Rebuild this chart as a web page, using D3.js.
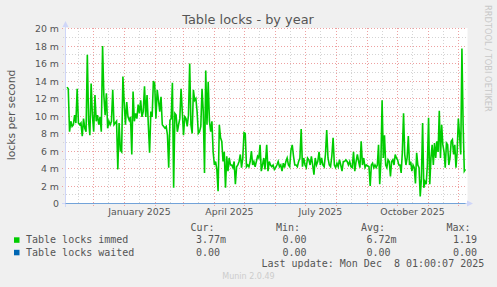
<!DOCTYPE html>
<html>
<head>
<meta charset="utf-8">
<script src="https://cdn.jsdelivr.net/npm/d3@7"></script>
<style>
  html, body { margin: 0; padding: 0; background: #f0f0f0; }
  svg { display: block; }
</style>
</head>
<body>
<svg id="chart" width="497" height="287"></svg>
<script>
// Graph period (munin "by year" = 400 days)
const periodStart = new Date(2024, 10, 3, 1, 0, 7);
const periodEnd = new Date(2025, 11, 8, 1, 0, 7);

// Table locks immed, in milli-locks per second in four stretches
const immedNovFeb = [13.3, 13.1, 8.2, 9.4, 8.8, 9.0, 10.1, 9.2, 13.1, 9.2, 9.0, 9.2, 7.7, 9.7, 8.6, 8.2,
  17.0, 9.4, 7.8, 13.7, 10.1, 8.2, 12.4, 9.4, 10.1, 9.0, 9.9, 8.2, 18.0, 12.4, 10.1, 12.6, 8.6, 9.4,
  9.0, 9.4, 13.0, 9.0, 9.2, 9.4, 3.9, 9.2, 6.1, 5.9, 14.5, 11.6, 9.0, 11.6, 9.9, 9.5, 9.9, 5.6, 12.8,
  9.4, 10.3, 9.7, 11.3, 10.3, 11.8, 9.9, 10.5, 13.4, 9.9, 12.4, 9.0, 5.8, 10.5, 9.9, 14.0, 13.7, 9.7,
  13.0, 11.8, 10.5, 12.2, 9.0];
const immedFebMay = [8.6, 8.8, 7.8, 4.1, 9.5, 9.7, 13.8, 1.8, 10.3, 10.1, 8.2, 9.0, 9.7, 13.1, 10.5,
  7.8, 9.9, 9.7, 8.8, 10.1, 16.0, 9.0, 8.0, 13.0, 11.8, 12.0, 10.5, 8.0, 8.2, 8.8, 13.1, 10.5, 3.5,
  15.2, 9.0, 13.9, 9.4, 8.2, 9.4, 5.9, 4.4, 4.8, 3.9, 1.4, 9.0, 7.5, 7.1, 4.8, 5.9, 1.8, 5.4, 3.7, 5.2,
  4.4, 4.4, 4.1, 4.8, 2.2, 4.2, 4.4, 4.8, 5.6, 4.1, 5.2, 8.1, 8.0, 4.2, 4.4, 4.2, 4.8, 6.0, 4.4, 4.8,
  4.2, 4.8, 5.4, 5.2, 6.7, 3.7, 4.4, 5.2, 3.9];
const immedMayAug = [6.7, 3.7, 4.8, 4.4, 4.2, 4.4, 3.9, 4.1, 4.4, 4.8, 4.2, 4.4, 3.7, 4.6, 4.1, 4.8,
  5.2, 4.4, 4.2, 6.1, 6.7, 5.4, 4.4, 4.4, 4.2, 4.8, 5.2, 8.5, 4.2, 5.2, 4.4, 4.1, 5.2, 5.0, 4.4, 5.4,
  4.4, 3.3, 5.2, 4.4, 4.8, 5.9, 4.4, 5.2, 4.4, 4.2, 5.6, 8.4, 5.2, 4.4, 4.2, 5.4, 7.5, 4.4, 4.1, 4.6,
  4.2, 5.0, 4.4, 3.7, 4.8, 4.8, 5.0, 4.8, 4.4, 4.8, 4.2, 4.1, 5.9, 3.7, 4.8, 5.6, 4.8, 4.1, 7.1, 4.4,
  5.2, 4.1, 4.4];
const immedSepDec = [4.2, 2.0, 4.4, 4.6, 4.1, 4.4, 4.1, 4.4, 6.7, 2.2, 4.8, 11.8, 5.2, 7.8, 4.4, 4.1,
  5.0, 4.8, 3.1, 4.8, 5.0, 4.4, 5.6, 5.2, 5.0, 4.4, 4.4, 3.5, 5.9, 10.3, 5.6, 4.4, 5.2, 7.7, 4.4, 4.8,
  3.7, 4.4, 4.1, 2.3, 5.8, 4.4, 4.1, 0.8, 2.9, 9.2, 1.8, 2.5, 2.2, 4.4, 9.8, 2.2, 5.2, 6.7, 4.4, 6.9,
  5.2, 7.1, 5.9, 10.6, 5.2, 9.0, 6.7, 5.9, 4.1, 6.9, 6.7, 4.4, 5.2, 7.1, 7.3, 5.6, 6.7, 4.1, 5.9, 9.7,
  7.8, 5.6, 17.7, 9.0, 3.7, 3.9];
// first and last sample time of each stretch
const stretchStarts = [new Date(2024, 10, 4, 13), new Date(2025, 1, 10, 13), new Date(2025, 4, 23, 6), new Date(2025, 8, 2, 13)];
const stretchEnds = [new Date(2025, 1, 7, 20), new Date(2025, 4, 21, 13), new Date(2025, 7, 30, 20), new Date(2025, 11, 8, 1)];

// Table locks waited stays at zero over the whole period
const waitedValues = [0, 0];

// Y ticks and x labels
const yMajorTicks = [0, 2, 4, 6, 8, 10, 12, 14, 16, 18, 20];
const yMinorTicks = [1, 3, 5, 7, 9, 11, 13, 15, 17, 19];
const xLabelMonths = [new Date(2025, 0, 16), new Date(2025, 3, 16), new Date(2025, 6, 16), new Date(2025, 9, 16)];

// Legend
const seriesNames = ["Table locks immed", "Table locks waited"];
const seriesColors = ["#00cc00", "#0066b3"];
const curValues = ["3.77m", "0.00"];
const minValues = ["0.00", "0.00"];
const avgValues = ["6.72m", "0.00"];
const maxValues = ["1.19", "0.00"];
const lastUpdate = "Last update: Mon Dec  8 01:00:07 2025";

const svg = d3.select("#chart");
const plot = { left: 66, right: 466, top: 28.5, bottom: 203.5 };

const x = d3.scaleTime().domain([periodStart, periodEnd]).range([plot.left - 0.5, plot.right - 0.5]);
const y = d3.scaleLinear().domain([0, 20]).range([plot.bottom, plot.top]);

// Build the immed series
const immedSeries = [];
[immedNovFeb, immedFebMay, immedMayAug, immedSepDec].forEach((vals, s) => {
    const t0 = stretchStarts[s].getTime(), t1 = stretchEnds[s].getTime();
    vals.forEach((v, i) => {
        immedSeries.push({ date: new Date(t0 + (t1 - t0) * i / (vals.length - 1)), value: v });
    });
});
const waitedSeries = waitedValues.map((v, i) => ({ date: i === 0 ? periodStart : periodEnd, value: v }));

// Canvas
svg.append("rect")
    .attr("x", plot.left)
    .attr("y", 28)
    .attr("width", plot.right - plot.left + 1.5)
    .attr("height", 176)
    .attr("fill", "#ffffff");

// Minor grid
const minorMonths = d3.timeMonth.range(new Date(2024, 10, 1), periodEnd).map(d => new Date(d.getFullYear(), d.getMonth(), 16))
    .filter(d => d > periodStart && d < periodEnd);
const grid = svg.append("g");
grid.selectAll(".vminor")
    .data(minorMonths)
    .join("line")
    .attr("x1", d => Math.round(x(d)) + 0.5)
    .attr("x2", d => Math.round(x(d)) + 0.5)
    .attr("y1", 28)
    .attr("y2", 204)
    .attr("stroke", "#d4d4d4")
    .attr("stroke-dasharray", "1,2");
grid.selectAll(".hminor")
    .data(yMinorTicks)
    .join("line")
    .attr("x1", 63)
    .attr("x2", plot.right + 1)
    .attr("y1", d => Math.round(y(d) - 0.5) + 0.5)
    .attr("y2", d => Math.round(y(d) - 0.5) + 0.5)
    .attr("stroke", "#d4d4d4")
    .attr("stroke-dasharray", "1,2");

// Major grid
const majorMonths = d3.timeMonth.range(periodStart, periodEnd);
grid.selectAll(".vmajor")
    .data(majorMonths)
    .join("line")
    .attr("x1", d => Math.round(x(d)) + 0.5)
    .attr("x2", d => Math.round(x(d)) + 0.5)
    .attr("y1", 28)
    .attr("y2", 207)
    .attr("stroke", "#eea0a0")
    .attr("stroke-dasharray", "1,2");
grid.selectAll(".hmajor")
    .data(yMajorTicks.filter(d => d > 0))
    .join("line")
    .attr("x1", 62)
    .attr("x2", plot.right + 1)
    .attr("y1", d => Math.round(y(d) - 0.5) + 0.5)
    .attr("y2", d => Math.round(y(d) - 0.5) + 0.5)
    .attr("stroke", "#eea0a0")
    .attr("stroke-dasharray", "1,2");

// Axes
const axisColor = "#cfd6f8";
svg.append("line")
    .attr("x1", 62).attr("x2", 469)
    .attr("y1", 203.5).attr("y2", 203.5)
    .attr("stroke", axisColor);
svg.append("line")
    .attr("x1", 65.5).attr("x2", 65.5)
    .attr("y1", 207).attr("y2", 24)
    .attr("stroke", axisColor);
svg.append("path")
    .attr("d", "M467,200.5 L473,203.5 L467,206.5 Z")
    .attr("fill", axisColor);
svg.append("path")
    .attr("d", "M62.5,27 L65.5,21 L68.5,27 Z")
    .attr("fill", axisColor);

// Series lines
const line = d3.line()
    .x(d => x(d.date))
    .y(d => y(d.value));

svg.append("path")
    .datum(waitedSeries)
    .attr("d", line)
    .attr("fill", "none")
    .attr("stroke", seriesColors[1])
    .attr("stroke-opacity", 0.45)
    .attr("stroke-width", 1);

svg.append("path")
    .datum(immedSeries)
    .attr("d", line)
    .attr("fill", "none")
    .attr("stroke", seriesColors[0])
    .attr("stroke-width", 1.6)
    .attr("stroke-linejoin", "miter");

// Y tick labels
const textColor = "#555555";
svg.append("g")
    .selectAll("text")
    .data(yMajorTicks)
    .join("text")
    .attr("x", 59)
    .attr("y", d => y(d) + 3.5)
    .attr("text-anchor", "end")
    .style("font-family", "DejaVu Sans")
    .style("font-size", "9.4px")
    .style("fill", textColor)
    .text(d => d === 0 ? "0" : `${d} m`);

// X labels
svg.append("g")
    .selectAll("text")
    .data(xLabelMonths)
    .join("text")
    .attr("x", d => x(d))
    .attr("y", 215)
    .attr("text-anchor", "middle")
    .style("font-family", "DejaVu Sans")
    .style("font-size", "9.4px")
    .style("fill", textColor)
    .text(d3.timeFormat("%B %Y"));

// Title
svg.append("text")
    .attr("x", 248)
    .attr("y", 24)
    .attr("text-anchor", "middle")
    .style("font-family", "DejaVu Sans")
    .style("font-size", "12.9px")
    .style("fill", textColor)
    .text("Table locks - by year");

// Vertical axis label
svg.append("text")
    .attr("transform", "translate(15,115) rotate(-90)")
    .attr("text-anchor", "middle")
    .style("font-family", "DejaVu Sans")
    .style("font-size", "10.8px")
    .style("fill", textColor)
    .text("locks per second");

// Watermark
svg.append("text")
    .attr("transform", "translate(485,5) rotate(90)")
    .attr("text-anchor", "start")
    .style("font-family", "DejaVu Sans")
    .style("font-size", "8.3px")
    .style("fill", "#c8c8c8")
    .text("RRDTOOL / TOBI OETIKER");

// Legend
const mono = "DejaVu Sans Mono";
const legend = svg.append("g")
    .style("font-family", mono)
    .style("font-size", "10px")
    .style("fill", textColor);

const headers = [["Cur:", 190.5], ["Min:", 276], ["Avg:", 361], ["Max:", 446.5]];
legend.selectAll(".hdr")
    .data(headers)
    .join("text")
    .attr("x", d => d[1])
    .attr("y", 230.5)
    .text(d => d[0]);

const rowY = [243, 255.5];
const columns = [[curValues, 196], [minValues, 282.5], [avgValues, 366.5], [maxValues, 453]];

seriesNames.forEach((name, i) => {
    legend.append("rect")
        .attr("x", 14)
        .attr("y", rowY[i] - 5.7)
        .attr("width", 5.5)
        .attr("height", 5.5)
        .attr("fill", seriesColors[i]);
    legend.append("text")
        .attr("x", 26)
        .attr("y", rowY[i])
        .text(name);
    columns.forEach(([vals, cx]) => {
        legend.append("text")
            .attr("x", cx)
            .attr("y", rowY[i])
            .text(vals[i]);
    });
});

legend.append("text")
    .attr("x", 261.5)
    .attr("y", 267)
    .style("white-space", "pre")
    .text(lastUpdate);

svg.append("text")
    .attr("x", 248.5)
    .attr("y", 279)
    .attr("text-anchor", "middle")
    .style("font-family", "DejaVu Sans")
    .style("font-size", "8px")
    .style("fill", "#cccccc")
    .text("Munin 2.0.49");
</script>
</body>
</html>
